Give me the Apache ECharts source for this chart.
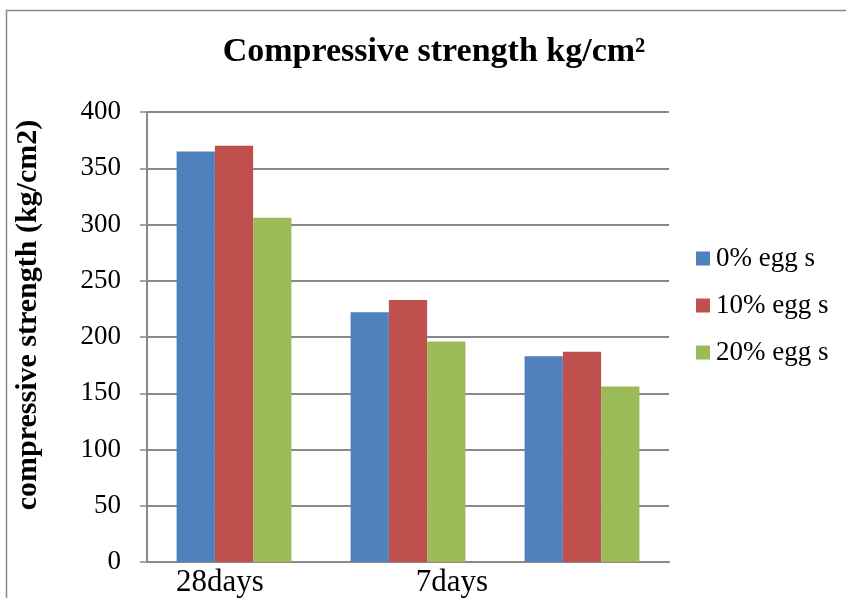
<!DOCTYPE html>
<html>
<head>
<meta charset="utf-8">
<script src="https://cdn.jsdelivr.net/npm/echarts@6/dist/echarts.min.js"></script>
<style>
  html, body { margin: 0; padding: 0; background: #ffffff; }
  #chart { width: 846px; height: 598px; }
</style>
</head>
<body>
<div id="chart"></div>
<script>
// Curing ages on the category axis (third group carries no label)
const categories = ['28days', '7days', ''];
// Compressive strength, kg/cm2, per egg-shell replacement level
const seriesNames = ['0% egg s', '10% egg s', '20% egg s'];
const egg0 = [365, 222, 183];
const egg10 = [370, 233, 187];
const egg20 = [306, 196, 156];
const yTicks = [0, 50, 100, 150, 200, 250, 300, 350, 400];

const colors = ['#4F81BD', '#C0504D', '#9BBB59'];
const serif = '"Liberation Serif", "DejaVu Serif", serif';
const gray = '#898989';

const chart = echarts.init(document.getElementById('chart'), null, { renderer: 'canvas' });

const makeSeries = (name, data, i) => ({
  name: name,
  type: 'bar',
  data: data,
  itemStyle: { color: colors[i] },
  barGap: '0%',
  barCategoryGap: '34%',
  emphasis: { disabled: true }
});

chart.setOption({
  animation: false,
  backgroundColor: '#ffffff',
  title: {
    text: 'Compressive strength kg/cm²',
    left: 429,
    textAlign: 'center',
    top: 30,
    textStyle: { fontFamily: serif, fontWeight: 'bold', fontSize: 34, color: '#000' }
  },
  legend: {
    orient: 'vertical',
    left: 696,
    top: 245,
    padding: 0,
    itemWidth: 14,
    itemHeight: 14,
    itemGap: 20,
    icon: 'rect',
    data: seriesNames,
    textStyle: { fontFamily: serif, fontSize: 27, color: '#000', padding: [0, 0, 0, 1] }
  },
  grid: { left: 147, top: 112, right: 177, bottom: 31, containLabel: false },
  xAxis: {
    type: 'category',
    data: categories,
    axisLine: { lineStyle: { color: gray, width: 2 } },
    axisTick: { show: false },
    axisLabel: {
      margin: 5,
      interval: 0,
      formatter: (v, idx) => v ? '{c' + idx + '|' + v + '}' : '',
      rich: {
        c0: { fontFamily: serif, fontSize: 31, color: '#000', padding: [0, 28, 0, 0] },
        c1: { fontFamily: serif, fontSize: 31, color: '#000', padding: [0, 0, 0, 88] }
      }
    }
  },
  yAxis: {
    type: 'value',
    min: yTicks[0],
    max: yTicks[yTicks.length - 1],
    interval: yTicks[1] - yTicks[0],
    name: 'compressive strength (kg/cm2)',
    nameLocation: 'middle',
    nameGap: 104,
    nameTextStyle: { fontFamily: serif, fontWeight: 'bold', fontSize: 30, color: '#000', padding: [0, 0, 0, 44] },
    axisLine: { show: true, lineStyle: { color: gray, width: 2 } },
    axisTick: { show: true, length: 7, lineStyle: { color: gray, width: 1.5 } },
    axisLabel: { margin: 26, fontFamily: serif, fontSize: 27, color: '#000' },
    splitLine: { lineStyle: { color: gray, width: 2 } }
  },
  graphic: [{
    type: 'rect',
    left: 4,
    top: 8,
    silent: true,
    z: -1,
    shape: { width: 1000, height: 1000 },
    style: { fill: 'none', stroke: '#8c8c8c', lineWidth: 1.5 }
  }],
  series: [
    makeSeries(seriesNames[0], egg0, 0),
    makeSeries(seriesNames[1], egg10, 1),
    makeSeries(seriesNames[2], egg20, 2)
  ]
});
</script>
</body>
</html>
